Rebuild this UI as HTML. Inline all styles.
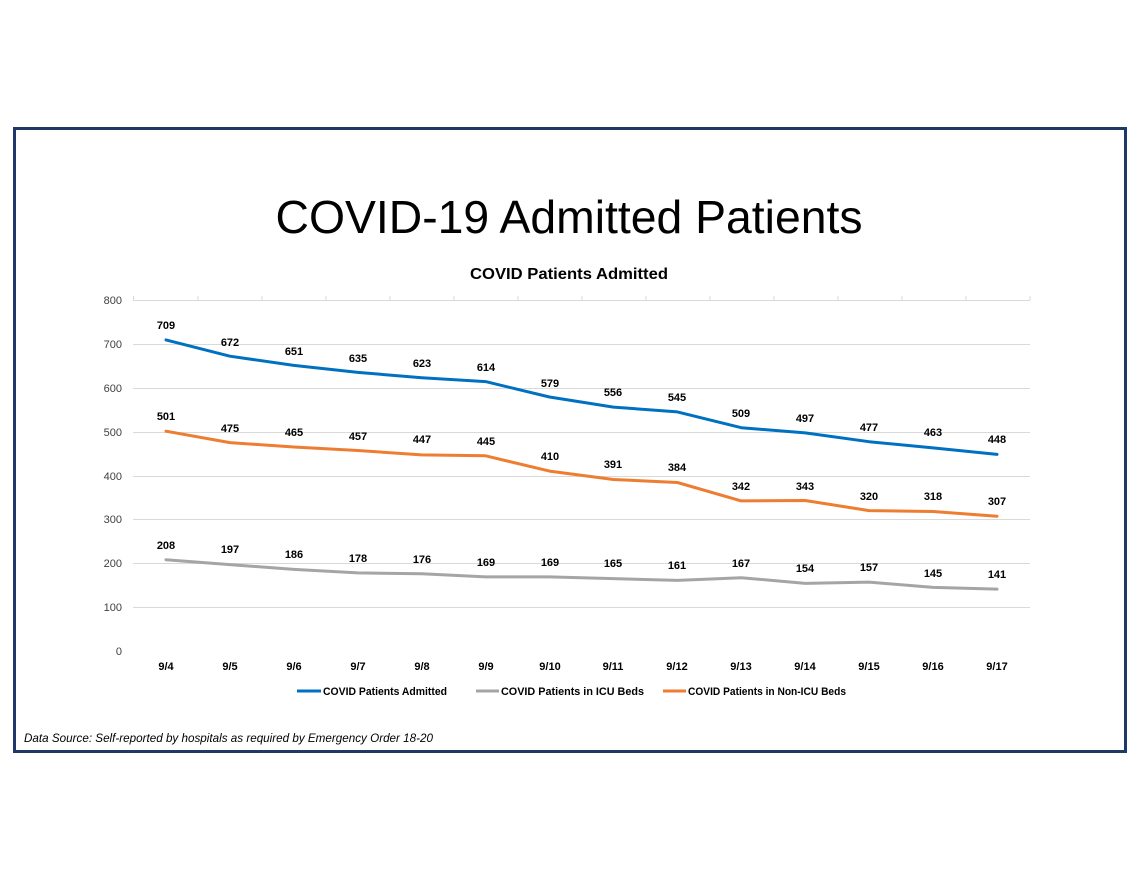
<!DOCTYPE html>
<html><head><meta charset="utf-8"><style>
html,body{margin:0;padding:0;background:#fff;}
svg{display:block;font-family:"Liberation Sans",sans-serif;}
</style></head><body>
<svg width="1140" height="880" viewBox="0 0 1140 880">
<rect x="14.5" y="128.5" width="1111" height="623" fill="none" stroke="#1f3864" stroke-width="3"/>
<text x="569" y="233" font-size="46" text-anchor="middle" textLength="587" lengthAdjust="spacingAndGlyphs" fill="#000">COVID-19 Admitted Patients</text>
<text x="569" y="279" font-size="16" font-weight="bold" text-anchor="middle" textLength="198" lengthAdjust="spacingAndGlyphs" fill="#000">COVID Patients Admitted</text>
<g stroke="#d9d9d9" stroke-width="1">
<line x1="133" y1="300.5" x2="1030" y2="300.5"/>
<line x1="133" y1="344.5" x2="1030" y2="344.5"/>
<line x1="133" y1="388.5" x2="1030" y2="388.5"/>
<line x1="133" y1="432.5" x2="1030" y2="432.5"/>
<line x1="133" y1="476.5" x2="1030" y2="476.5"/>
<line x1="133" y1="519.5" x2="1030" y2="519.5"/>
<line x1="133" y1="563.5" x2="1030" y2="563.5"/>
<line x1="133" y1="607.5" x2="1030" y2="607.5"/>
<line x1="133.5" y1="296" x2="133.5" y2="300"/><line x1="198" y1="296" x2="198" y2="300"/><line x1="262" y1="296" x2="262" y2="300"/><line x1="326" y1="296" x2="326" y2="300"/><line x1="390" y1="296" x2="390" y2="300"/><line x1="454" y1="296" x2="454" y2="300"/><line x1="518" y1="296" x2="518" y2="300"/><line x1="582" y1="296" x2="582" y2="300"/><line x1="646" y1="296" x2="646" y2="300"/><line x1="710" y1="296" x2="710" y2="300"/><line x1="774" y1="296" x2="774" y2="300"/><line x1="838" y1="296" x2="838" y2="300"/><line x1="902" y1="296" x2="902" y2="300"/><line x1="966" y1="296" x2="966" y2="300"/><line x1="1030" y1="296" x2="1030" y2="300"/>
</g>
<g font-size="11" fill="#404040" text-anchor="end">
<text x="122" y="304">800</text><text x="122" y="348">700</text><text x="122" y="392">600</text><text x="122" y="436">500</text><text x="122" y="480">400</text><text x="122" y="523">300</text><text x="122" y="567">200</text><text x="122" y="611">100</text><text x="122" y="655">0</text>
</g>
<g font-size="11" font-weight="bold" fill="#000" text-anchor="middle">
<text x="166" y="670">9/4</text><text x="230" y="670">9/5</text><text x="294" y="670">9/6</text><text x="358" y="670">9/7</text><text x="422" y="670">9/8</text><text x="486" y="670">9/9</text><text x="550" y="670">9/10</text><text x="613" y="670">9/11</text><text x="677" y="670">9/12</text><text x="741" y="670">9/13</text><text x="805" y="670">9/14</text><text x="869" y="670">9/15</text><text x="933" y="670">9/16</text><text x="997" y="670">9/17</text>
</g>
<g fill="none" stroke-width="3" stroke-linejoin="round" stroke-linecap="round">
<polyline stroke="#a5a5a5" points="166,559.7 229.9,564.6 293.8,569.4 357.8,572.9 421.7,573.8 485.6,576.9 549.5,576.9 613.4,578.6 677.4,580.4 741.3,577.7 805.2,583.4 869.1,582.1 933,587.4 997,589.1"/>
<polyline stroke="#ed7d31" points="166,431.2 229.9,442.6 293.8,447 357.8,450.5 421.7,454.9 485.6,455.8 549.5,471.1 613.4,479.5 677.4,482.5 741.3,500.9 805.2,500.5 869.1,510.6 933,511.5 997,516.3"/>
<polyline stroke="#0070c0" points="166,339.9 229.9,356.2 293.8,365.4 357.8,372.4 421.7,377.7 485.6,381.6 549.5,397 613.4,407.1 677.4,411.9 741.3,427.7 805.2,432.9 869.1,441.7 933,447.9 997,454.4"/>
</g>
<g font-size="11" font-weight="bold" fill="#000" text-anchor="middle">
<text x="166" y="329">709</text><text x="230" y="346">672</text><text x="294" y="355">651</text><text x="358" y="362">635</text><text x="422" y="367">623</text><text x="486" y="371">614</text><text x="550" y="387">579</text><text x="613" y="396">556</text><text x="677" y="401">545</text><text x="741" y="417">509</text><text x="805" y="422">497</text><text x="869" y="431">477</text><text x="933" y="436">463</text><text x="997" y="443">448</text>
<text x="166" y="420">501</text><text x="230" y="432">475</text><text x="294" y="436">465</text><text x="358" y="440">457</text><text x="422" y="443">447</text><text x="486" y="445">445</text><text x="550" y="460">410</text><text x="613" y="468">391</text><text x="677" y="471">384</text><text x="741" y="490">342</text><text x="805" y="490">343</text><text x="869" y="500">320</text><text x="933" y="500">318</text><text x="997" y="505">307</text>
<text x="166" y="549">208</text><text x="230" y="553">197</text><text x="294" y="558">186</text><text x="358" y="562">178</text><text x="422" y="563">176</text><text x="486" y="566">169</text><text x="550" y="566">169</text><text x="613" y="567">165</text><text x="677" y="569">161</text><text x="741" y="567">167</text><text x="805" y="572">154</text><text x="869" y="571">157</text><text x="933" y="577">145</text><text x="997" y="578">141</text>
</g>
<g stroke-width="3">
<line x1="297" y1="691" x2="321" y2="691" stroke="#0070c0"/>
<line x1="476" y1="691" x2="499" y2="691" stroke="#a5a5a5"/>
<line x1="663" y1="691" x2="686" y2="691" stroke="#ed7d31"/>
</g>
<g font-size="11" font-weight="bold" fill="#000">
<text x="323" y="695" textLength="124" lengthAdjust="spacingAndGlyphs">COVID Patients Admitted</text>
<text x="501" y="695" textLength="143" lengthAdjust="spacingAndGlyphs">COVID Patients in ICU Beds</text>
<text x="688" y="695" textLength="158" lengthAdjust="spacingAndGlyphs">COVID Patients in Non-ICU Beds</text>
</g>
<text x="24" y="742" font-size="12" font-style="italic" fill="#000" textLength="409" lengthAdjust="spacingAndGlyphs">Data Source: Self-reported by hospitals as required by Emergency Order 18-20</text>
</svg>
</body></html>
